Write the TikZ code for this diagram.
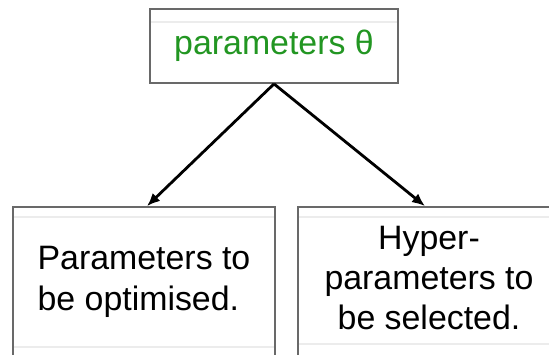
\documentclass[tikz,border=0pt]{standalone}
\usepackage{fontspec}
\setmainfont{Liberation Sans}
\usetikzlibrary{arrows.meta,calc}
\definecolor{paramgreen}{RGB}{34,150,34}
\definecolor{boxgray}{RGB}{105,105,105}
\definecolor{rowgray}{RGB}{236,236,236}
\begin{document}
\begin{tikzpicture}[x=1bp,y=-1bp,
  box/.style={draw=boxgray,line width=1.8bp,fill=white,inner sep=0pt,
    font=\fontsize{34}{41}\selectfont},
  label/.style={inner sep=0pt,font=\fontsize{34}{40}\selectfont},
  rowline/.style={draw=rowgray,line width=1.5bp},
  link/.style={line width=2.8bp,-{Latex[length=13bp,width=11bp]}}]
\useasboundingbox (0,0) rectangle (549,354);
\clip (0,0) rectangle (549,354);

% boxes
\node[box,minimum width=248bp,minimum height=74bp,text=paramgreen]
  (theta) at (274,46) {parameters θ};
\node[box,minimum width=262bp,minimum height=149bp,align=left]
  (opt) at (144,281.5) {Parameters to\\be optimised.};
\node[box,minimum width=262bp,minimum height=160bp]
  (sel) at (429,287) {};
\node[label,align=center] (seltext) at (429,278)
  {Hyper-\\parameters to\\be selected.};

% faint row rules inside the boxes
\draw[rowline] ($(theta.north west)+(2,14)$) -- ($(theta.north east)+(-2,14)$);
\draw[rowline] ($(opt.north west)+(2,11)$) -- ($(opt.north east)+(-2,11)$);
\draw[rowline] ($(opt.south west)+(2,-10)$) -- ($(opt.south east)+(-2,-10)$);
\draw[rowline] ($(sel.north west)+(2,11)$) -- ($(sel.north east)+(-2,11)$);
\draw[rowline] ($(sel.north west)+(2,138)$) -- ($(sel.north east)+(-2,138)$);

% connectors
\draw[link] (theta.south) -- ($(opt.north)+(3,0)$);
\draw[link] (theta.south) -- ($(sel.north)+(-4,0)$);
\end{tikzpicture}
\end{document}
